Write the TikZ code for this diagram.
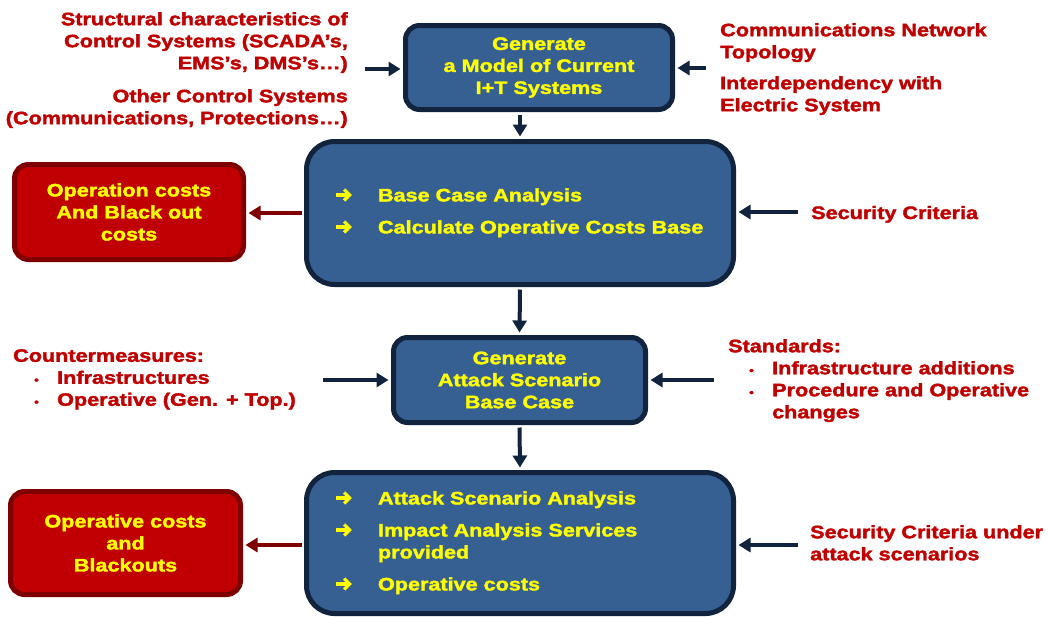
\documentclass[tikz,border=0pt]{standalone}
\usepackage{fontspec}
\setmainfont{Liberation Sans}[FakeStretch=1.2,BoldFeatures={FakeBold=2}]
\usetikzlibrary{arrows.meta}
\definecolor{boxblue}{HTML}{376092}
\definecolor{navy}{HTML}{12243D}
\definecolor{redfill}{HTML}{C00000}
\definecolor{redline}{HTML}{7F0000}
\definecolor{redtext}{HTML}{C00000}
\definecolor{yel}{HTML}{FFFF00}
\newsavebox\arrowglyph
\newcommand\hdarrow{\usebox\arrowglyph}
\newcommand\bul{\hspace*{21pt}\makebox[23pt][l]{\fontsize{11}{11}\selectfont •}}
\begin{document}
% heavy list arrow used in the analysis boxes
\sbox\arrowglyph{\begin{pgfpicture}%
  \pgfsetbaseline{-6.5pt}%
  \pgfsetcolor{yel}%
  \pgfsetlinewidth{3.2pt}%
  \pgfsetmiterjoin
  \pgfpathmoveto{\pgfpoint{0pt}{0pt}}%
  \pgfpathlineto{\pgfpoint{13pt}{0pt}}%
  \pgfusepath{stroke}%
  \pgfpathmoveto{\pgfpoint{8.5pt}{5.5pt}}%
  \pgfpathlineto{\pgfpoint{14pt}{0pt}}%
  \pgfpathlineto{\pgfpoint{8.5pt}{-5.5pt}}%
  \pgfusepath{stroke}%
\end{pgfpicture}}%
\begin{tikzpicture}[x=1pt,y=-1pt,
  every node/.style={font=\fontsize{18}{22}\selectfont\bfseries, inner sep=0pt},
  bluebox/.style={draw=navy, fill=boxblue, line width=5pt, rounded corners=14pt,
    text=yel, align=center},
  redbox/.style={draw=redline, fill=redfill, line width=5pt, rounded corners=14pt,
    text=yel, align=center},
  note/.style={text=redtext},
  flow/.style={draw=navy, line width=4pt, shorten >=2.5pt, shorten <=2.5pt,
    -{Triangle[length=12pt,width=14pt]}},
  outflow/.style={draw=redline, line width=4pt, shorten >=2.5pt, shorten <=2.5pt,
    -{Triangle[length=12pt,width=14pt]}}]
\useasboundingbox (0,0) rectangle (1048,616);

% process boxes
\node[bluebox, minimum width=267pt, minimum height=84pt] (b1) at (539,67.5)
  {Generate\\a Model of Current\\I+T Systems};
\node[bluebox, rounded corners=28pt, minimum width=427pt, minimum height=143pt] (b2) at (520,213)
  {\raisebox{-3pt}{\begin{tabular}{@{}p{44pt}@{}p{330pt}@{}}
   \hdarrow & Base Case Analysis\\[10pt]
   \hdarrow & Calculate Operative Costs Base
   \end{tabular}}\hspace*{-2pt}};
\node[bluebox, minimum width=252pt, minimum height=85pt] (b3) at (519.5,380)
  {Generate\\Attack Scenario\\Base Case};
\node[bluebox, rounded corners=28pt, minimum width=427pt, minimum height=141pt] (b4) at (520,543)
  {\begin{tabular}{@{}p{44pt}@{}p{330pt}@{}}
   \hdarrow & Attack Scenario Analysis\\[10pt]
   \hdarrow & Impact Analysis Services\\
            & provided\\[10pt]
   \hdarrow & Operative costs
   \end{tabular}\hspace*{-2pt}};

% result boxes
\node[redbox, minimum width=229pt, minimum height=95pt] (r1) at (129,212)
  {Operation costs\\And Black out\\costs};
\node[redbox, minimum width=230pt, minimum height=103pt] (r2) at (125.5,543)
  {Operative costs\\and\\Blackouts};

% inputs
\node[note, anchor=north east, align=right] (t1) at (348,12)
  {Structural characteristics of\\Control Systems (SCADA’s,\\EMS’s, DMS’s…)};
\node[note, anchor=north east, align=right] (t2) at (348,89)
  {Other Control Systems\\(Communications, Protections…)};
\node[note, anchor=north west, align=left] (t3) at (720,23)
  {Communications Network\\Topology};
\node[note, anchor=north west, align=left] (t4) at (720,76)
  {Interdependency with\\Electric System};
\node[note, anchor=base west] (t5) at (811,219) {Security Criteria};
\node[note, anchor=north west, align=left] (t6) at (13,349)
  {Countermeasures:\\\bul Infrastructures\\\bul Operative (Gen. + Top.)};
\node[note, anchor=north west, align=left] (t7) at (728,339)
  {Standards:\\\bul Infrastructure additions\\\bul Procedure and Operative\\\hspace*{44pt}changes};
\node[note, anchor=north west, align=left] (t8) at (810,525)
  {Security Criteria under\\attack scenarios};

% free ends of the input arrows
\coordinate (i1) at (362,69);
\coordinate (i2) at (708,68);
\coordinate (i3) at (800,212);
\coordinate (i4) at (320,380);
\coordinate (i5) at (716,380);
\coordinate (i6) at (800,545);

% connectors
\draw[flow] (i1) -- (i1 -| b1.west);
\draw[flow] (i2) -- (i2 -| b1.east);
\draw[flow] (b2.north |- b1.south) -- (b2.north);
\draw[flow] (i3) -- (i3 -| b2.east);
\draw[outflow] (b2.west) -- (b2.west -| r1.east);
\draw[flow] (b2.south) -- (b3.north);
\draw[flow] (i4) -- (i4 -| b3.west);
\draw[flow] (i5) -- (i5 -| b3.east);
\draw[flow] (b3.south) -- (b4.north);
\draw[flow] (i6) -- (i6 -| b4.east);
\draw[outflow] (b4.west |- i6) -- (i6 -| r2.east);
\end{tikzpicture}
\end{document}
